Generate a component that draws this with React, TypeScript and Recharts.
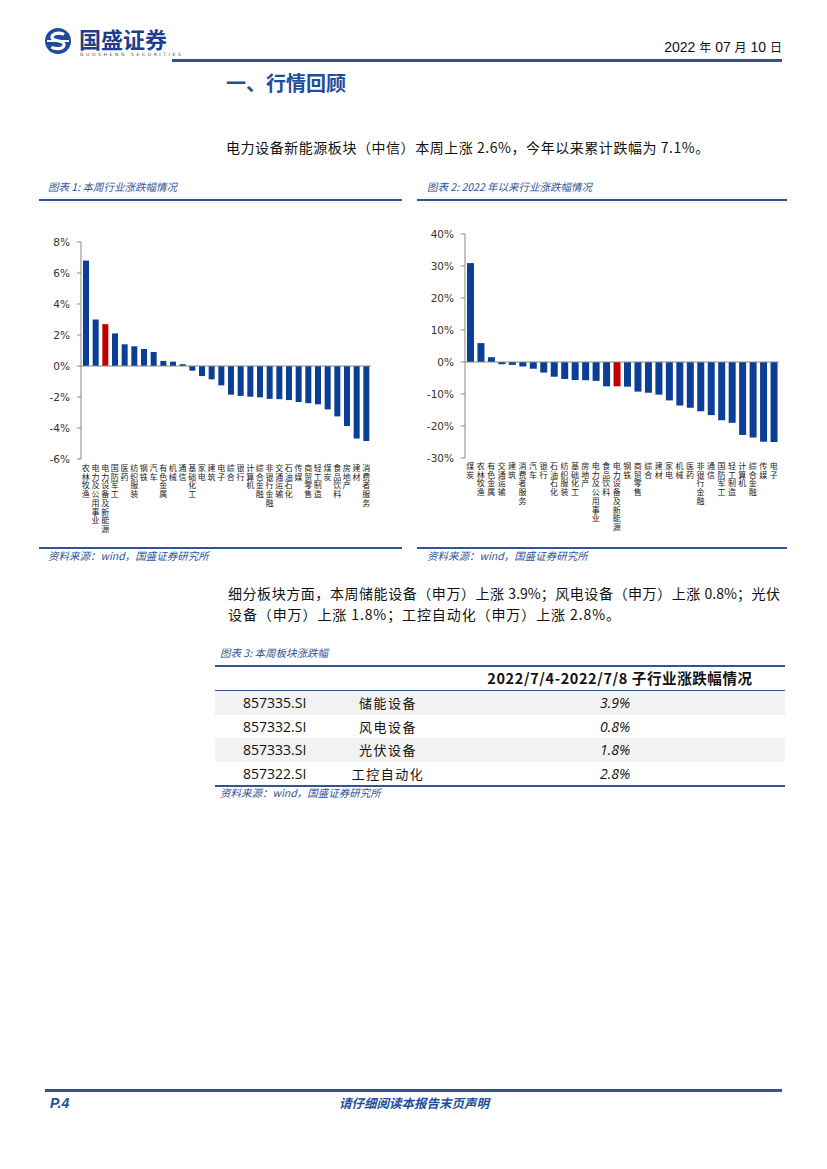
import React from 'react';
import { BarChart, Bar, XAxis, YAxis, Cell, ReferenceLine } from 'recharts';

const weekCategories = ['农林牧渔','电力及公用事业','电力设备及新能源','国防军工','医药','纺织服装','钢铁','汽车','有色金属','机械','通信','基础化工','家电','建筑','电子','综合','银行','计算机','综合金融','非银行金融','交通运输','石油石化','传媒','商贸零售','轻工制造','煤炭','食品饮料','房地产','建材','消费者服务'];
const weekValues = [6.8,3.0,2.7,2.1,1.4,1.27,1.1,0.9,0.33,0.28,0.12,-0.3,-0.65,-0.86,-1.25,-1.85,-1.93,-1.98,-2.02,-2.12,-2.14,-2.2,-2.32,-2.4,-2.47,-2.8,-3.25,-3.87,-4.68,-4.84];
const weekTicks = [-6,-4,-2,0,2,4,6,8];

const ytdCategories = ['煤炭','农林牧渔','有色金属','交通运输','建筑','消费者服务','汽车','银行','石油石化','纺织服装','基础化工','房地产','电力及公用事业','食品饮料','电力设备及新能源','钢铁','商贸零售','综合','建材','家电','机械','医药','非银行金融','通信','国防军工','轻工制造','计算机','综合金融','传媒','电子'];
const ytdValues = [30.9,5.9,1.5,-0.7,-0.9,-1.4,-2.1,-3.3,-4.6,-5.3,-5.65,-5.7,-5.9,-7.6,-7.6,-7.7,-9.25,-9.6,-10.2,-12.0,-13.6,-14.3,-15.4,-16.6,-18.2,-19.0,-22.8,-23.6,-24.9,-25.0];
const ytdTicks = [-30,-20,-10,0,10,20,30,40];

const highlight = '电力设备及新能源';

const tableCodes = ['857335.SI','857332.SI','857333.SI','857322.SI'];
const tableNames = ['储能设备','风电设备','光伏设备','工控自动化'];
const tableValues = ['3.9%','0.8%','1.8%','2.8%'];

const BLUE = '#0B3E96';
const RED = '#C00000';
const TXT_BLUE = '#2F5597';
const CJK = '"Noto Sans CJK SC", "Noto Sans", sans-serif';
const AX_FONT = '"DejaVu Sans", Verdana, sans-serif';

const weekData = weekCategories.map((name, i) => ({ name, value: weekValues[i] }));
const ytdData = ytdCategories.map((name, i) => ({ name, value: ytdValues[i] }));

const VerticalTick = (props: any) => {
  const { x, y, payload, offsetY } = props;
  const chars = String(payload.value).split('');
  return (
    <text x={x} y={y + offsetY} textAnchor="middle" fontSize={8} fill="#222" fontFamily={CJK}>
      {chars.map((c, i) => (
        <tspan key={i} x={x} dy={i === 0 ? 0 : 8.7}>{c}</tspan>
      ))}
    </text>
  );
};

const abs = (l: number, t: number, extra: any = {}): React.CSSProperties => ({ position: 'absolute', left: l, top: t, ...extra });

export default function App() {
  return (
    <div style={{ position: 'absolute', left: 0, top: 0, width: 827, height: 1169, background: '#fff', fontFamily: CJK, color: '#222' }}>
      {/* header logo */}
      <svg style={abs(44, 26)} width={28} height={30} viewBox="0 0 28 30">
        <circle cx={14} cy={15} r={13} fill="#1D4C9C" />
        <path d="M20 8.5 C17 6.5 8 6.5 8 11.5 C8 16 20 13.5 20 18.5 C20 23.5 11 23.5 7.5 21" stroke="#fff" strokeWidth={3.2} fill="none" />
        <rect x={3} y={14} width={22} height={2} fill="#fff" />
      </svg>
      <div style={abs(79, 25, { fontSize: 22, fontWeight: 700, color: '#1D3E8C', letterSpacing: 0, lineHeight: '26px' })}>国盛证券</div>
      <div style={abs(80, 52, { fontSize: 4.5, color: '#444', letterSpacing: 2.6, lineHeight: '6px', fontFamily: AX_FONT })}>GUOSHENG SECURITIES</div>
      <div style={abs(600, 38, { width: 182, textAlign: 'right', fontSize: 14, color: '#111', lineHeight: '18px', fontFamily: '"Liberation Sans Narrow", "Liberation Sans", sans-serif' })}>
        2022 <span style={{ fontFamily: CJK, fontSize: 12 }}>年</span> 07 <span style={{ fontFamily: CJK, fontSize: 12 }}>月</span> 10 <span style={{ fontFamily: CJK, fontSize: 12 }}>日</span>
      </div>
      <div style={abs(172, 59, { width: 610, height: 3, background: '#2F5597' })} />

      <div style={abs(226, 70, { fontSize: 20, fontWeight: 700, color: '#1F4E9A', lineHeight: '26px' })}>一、行情回顾</div>

      <div style={abs(226, 137, { fontSize: 14, lineHeight: '20px', letterSpacing: 0.55, color: '#111' })}>
        电力设备新能源板块（中信）本周上涨 2.6%，今年以来累计跌幅为 7.1%。
      </div>

      {/* chart 1 frame */}
      <div style={abs(48, 180, { fontSize: 10.5, fontStyle: 'italic', color: TXT_BLUE, lineHeight: '14px' })}>图表 1: 本周行业涨跌幅情况</div>
      <div style={abs(39, 199, { width: 363, height: 2, background: '#2F5597' })} />
      <div style={abs(39, 547, { width: 363, height: 1.5, background: '#2F5597' })} />
      <div style={abs(48, 549, { fontSize: 10.5, fontStyle: 'italic', color: TXT_BLUE, lineHeight: '14px' })}>资料来源：wind，国盛证券研究所</div>

      {/* chart 2 frame */}
      <div style={abs(427, 180, { fontSize: 10.5, fontStyle: 'italic', color: TXT_BLUE, lineHeight: '14px' })}>图表 2: 2022 年以来行业涨跌幅情况</div>
      <div style={abs(417, 199, { width: 370, height: 2, background: '#2F5597' })} />
      <div style={abs(417, 547, { width: 370, height: 1.5, background: '#2F5597' })} />
      <div style={abs(427, 549, { fontSize: 10.5, fontStyle: 'italic', color: TXT_BLUE, lineHeight: '14px' })}>资料来源：wind，国盛证券研究所</div>

      <div style={abs(40, 230)}>
        <BarChart width={340} height={310} data={weekData} margin={{ top: 12, right: 9, bottom: 0, left: 0 }} barSize={6}>
          <YAxis domain={[-6, 8]} ticks={weekTicks} interval={0} tickFormatter={(v: number) => `${v}%`} width={41}
            axisLine={{ stroke: '#888' }} tickLine={{ stroke: '#888' }} tickSize={4} tickMargin={7}
            tick={{ fontSize: 10.5, fill: '#333', fontFamily: AX_FONT }} />
          <XAxis dataKey="name" interval={0} axisLine={false} tickLine={false} height={81} tickSize={0} tickMargin={0}
            tick={<VerticalTick offsetY={12} />} />
          <ReferenceLine y={0} stroke="#888" />
          <Bar dataKey="value" isAnimationActive={false}>
            {weekData.map((d, i) => <Cell key={i} fill={d.name === highlight ? RED : BLUE} />)}
          </Bar>
        </BarChart>
      </div>

      <div style={abs(420, 222)}>
        <BarChart width={365} height={320} data={ytdData} margin={{ top: 12, right: 6, bottom: 0, left: 0 }} barSize={7}>
          <YAxis domain={[-30, 40]} ticks={ytdTicks} interval={0} tickFormatter={(v: number) => `${v}%`} width={45}
            axisLine={{ stroke: '#888' }} tickLine={{ stroke: '#888' }} tickSize={4} tickMargin={7}
            tick={{ fontSize: 10.5, fill: '#333', fontFamily: AX_FONT }} />
          <XAxis dataKey="name" interval={0} axisLine={false} tickLine={false} height={84} tickSize={0} tickMargin={0}
            tick={<VerticalTick offsetY={11} />} />
          <ReferenceLine y={0} stroke="#888" />
          <Bar dataKey="value" isAnimationActive={false}>
            {ytdData.map((d, i) => <Cell key={i} fill={d.name === highlight ? RED : BLUE} />)}
          </Bar>
        </BarChart>
      </div>

      {/* paragraph 2 */}
      <div style={abs(228, 583, { width: 552, fontSize: 14, lineHeight: '21px', color: '#111', textAlign: 'justify', textAlignLast: 'justify' })}>
        细分板块方面，本周储能设备（申万）上涨 3.9%；风电设备（申万）上涨 0.8%；光伏
      </div>
      <div style={abs(228, 604, { width: 552, fontSize: 14, lineHeight: '21px', color: '#111', letterSpacing: 0.9 })}>
        设备（申万）上涨 1.8%；工控自动化（申万）上涨 2.8%。
      </div>

      {/* table */}
      <div style={abs(220, 646, { fontSize: 10.5, fontStyle: 'italic', color: TXT_BLUE, lineHeight: '14px' })}>图表 3: 本周板块涨跌幅</div>
      <div style={abs(215, 665, { width: 570, height: 2, background: '#2F5597' })} />
      <div style={abs(420, 668, { width: 400, textAlign: 'center', fontSize: 14.5, fontWeight: 700, color: '#111', lineHeight: '20px', letterSpacing: 0.6 })}>2022/7/4-2022/7/8 子行业涨跌幅情况</div>
      <div style={abs(215, 690, { width: 570, height: 1, background: '#2F5597' })} />
      {tableCodes.map((code, i) => (
        <div key={code} style={abs(215, 691 + i * 23.5, { width: 570, height: 23.5, background: i % 2 === 0 ? '#F2F2F2' : '#fff' })}>
          <div style={abs(28, 2, { fontSize: 14, lineHeight: '20px', fontFamily: '"Open Sans", "Liberation Sans", sans-serif', color: '#111' })}>{code}</div>
          <div style={abs(123, 2, { width: 100, textAlign: 'center', fontSize: 13, letterSpacing: 1.5, lineHeight: '20px', color: '#111' })}>{tableNames[i]}</div>
          <div style={abs(350, 2, { width: 100, textAlign: 'center', fontSize: 14, fontStyle: 'italic', lineHeight: '20px', fontFamily: '"Open Sans", "Liberation Sans", sans-serif', color: '#111' })}>{tableValues[i]}</div>
        </div>
      ))}
      <div style={abs(215, 785, { width: 570, height: 1.5, background: '#2F5597' })} />
      <div style={abs(220, 786, { fontSize: 10.5, fontStyle: 'italic', color: TXT_BLUE, lineHeight: '14px' })}>资料来源：wind，国盛证券研究所</div>

      {/* footer */}
      <div style={abs(45, 1089, { width: 737, height: 3, background: '#2F5597' })} />
      <div style={abs(50, 1094, { fontSize: 14, fontWeight: 700, fontStyle: 'italic', color: '#1F4E9A', lineHeight: '18px', fontFamily: '"Liberation Sans", sans-serif' })}>P.4</div>
      <div style={abs(300, 1095, { width: 228, textAlign: 'center', fontSize: 12.5, fontWeight: 700, fontStyle: 'italic', color: '#1F4E9A', lineHeight: '16px' })}>请仔细阅读本报告末页声明</div>
    </div>
  );
}
